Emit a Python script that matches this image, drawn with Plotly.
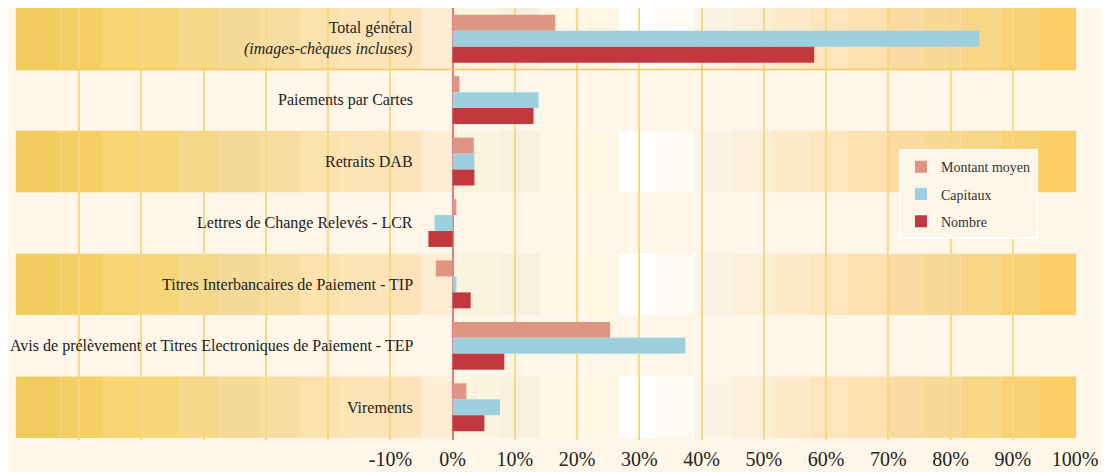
import plotly.graph_objects as go

categories = [
    "Total général",
    "Paiements par Cartes",
    "Retraits DAB",
    "Lettres de Change Relevés - LCR",
    "Titres Interbancaires de Paiement - TIP",
    "Avis de prélèvement et Titres Electroniques de Paiement - TEP",
    "Virements",
]
category_labels = [
    "Total général<br><i>(images-chèques incluses)</i>",
    "Paiements par Cartes",
    "Retraits DAB",
    "Lettres de Change Relevés - LCR",
    "Titres Interbancaires de Paiement - TIP",
    "Avis de prélèvement et Titres Electroniques de Paiement - TEP",
    "Virements",
]
montant_moyen = [16.5, 1.1, 3.4, 0.6, -2.7, 25.3, 2.2]
capitaux = [84.6, 13.8, 3.5, -2.9, 0.6, 37.4, 7.6]
nombre = [58.1, 13.0, 3.5, -3.9, 2.9, 8.3, 5.1]

tick_vals = [-70, -60, -50, -40, -30, -20, -10, 0, 10, 20, 30, 40, 50, 60, 70, 80, 90, 100]
tick_text = ["", "", "", "", "", "", "-10%", "0%", "10%", "20%", "30%", "40%",
             "50%", "60%", "70%", "80%", "90%", "100%"]

# background band gradient (style)
band_stops = [-70.2, -63, -56.5, -50, -43.7, -37.3, -30.8, -24.4, -18, -11.6, -5.1, 0,
              7.5, 14, 20, 26.7, 32.8, 38.9, 45, 51.4, 57.4, 63.5, 69.9, 75.7, 81.6, 88,
              94.2, 100.2]
band_colors = ["#F2CB5E", "#F5CE64", "#F8D572", "#F8D67A", "#F7D88A", "#F6DA98",
               "#F7DDA1", "#FCE2AD", "#FDE4B6", "#FDE3B9", "#FEEDD2", "#FCF4DF",
               "#F7F0DE", "#FEF8E7", "#FEF8E2", "#FFFFFF", "#FEFAF4", "#FCF3E5",
               "#FDEEDA", "#FEEAC9", "#FEE5BE", "#FDE1B0", "#FADAA1", "#F7DA95",
               "#F7D686", "#F9D276", "#FBCD65"]

BG = "#FEF6E9"
FONT = "Liberation Serif, DejaVu Serif, Times New Roman, serif"

fig = go.Figure()
fig.add_trace(go.Bar(y=categories, x=montant_moyen, orientation="h", name="Montant moyen",
                     marker=dict(color="#DE9583", line=dict(width=0))))
fig.add_trace(go.Bar(y=categories, x=capitaux, orientation="h", name="Capitaux",
                     marker=dict(color="#9CD0DE", line=dict(width=0))))
fig.add_trace(go.Bar(y=categories, x=nombre, orientation="h", name="Nombre",
                     marker=dict(color="#C3383F", line=dict(width=0))))

shapes = []
for k in range(0, len(categories), 2):
    for i, c in enumerate(band_colors):
        shapes.append(dict(type="rect", xref="x", yref="y",
                           x0=band_stops[i], x1=band_stops[i + 1],
                           y0=k - 0.5, y1=k + 0.5,
                           fillcolor=c, line=dict(width=0), layer="below"))
shapes.append(dict(type="line", xref="x", yref="y", x0=band_stops[0], x1=band_stops[-1],
                   y0=0.5, y1=0.5, line=dict(color="#F2C95C", width=1.5), layer="between"))

annotations = []
for cat, lab in zip(categories, category_labels):
    annotations.append(dict(x=-6, y=cat, xref="x", yref="y", text=lab, showarrow=False,
                            xanchor="right", yanchor="middle", align="right",
                            font=dict(family=FONT, size=16, color="#222222")))

# the page body adds an 8px offset; margins compensate for it
fig.update_layout(
    width=1109, height=472,
    margin=dict(l=8, r=41, t=0, b=40),
    paper_bgcolor=BG, plot_bgcolor=BG,
    barmode="group", bargap=0.22, bargroupgap=0,
    shapes=shapes, annotations=annotations,
    font=dict(family=FONT, color="#222222"),
    legend=dict(x=0.833, y=0.673, xanchor="left", yanchor="top",
                bgcolor=BG, bordercolor="#FFFFFF", borderwidth=2,
                font=dict(family=FONT, size=14, color="#333333"),
                traceorder="grouped", tracegroupgap=6),
    xaxis=dict(range=[-70.16, 100.16], tickvals=tick_vals, ticktext=tick_text,
               showgrid=True, gridcolor="#F9D885", gridwidth=1.5,
               zeroline=True, zerolinecolor="#E07E7E", zerolinewidth=2,
               tickfont=dict(family=FONT, size=20, color="#222222"),
               ticks="", ticklabelstandoff=5, showline=False, fixedrange=True,
               automargin=False),
    yaxis=dict(categoryorder="array", categoryarray=categories,
               range=[6.533, -0.5], showticklabels=False, showgrid=False,
               zeroline=False, showline=False, ticks="", automargin=False),
)
for i, tr in enumerate(fig.data):
    tr.legendgroup = f"g{i}"

fig.write_html("out.html")
